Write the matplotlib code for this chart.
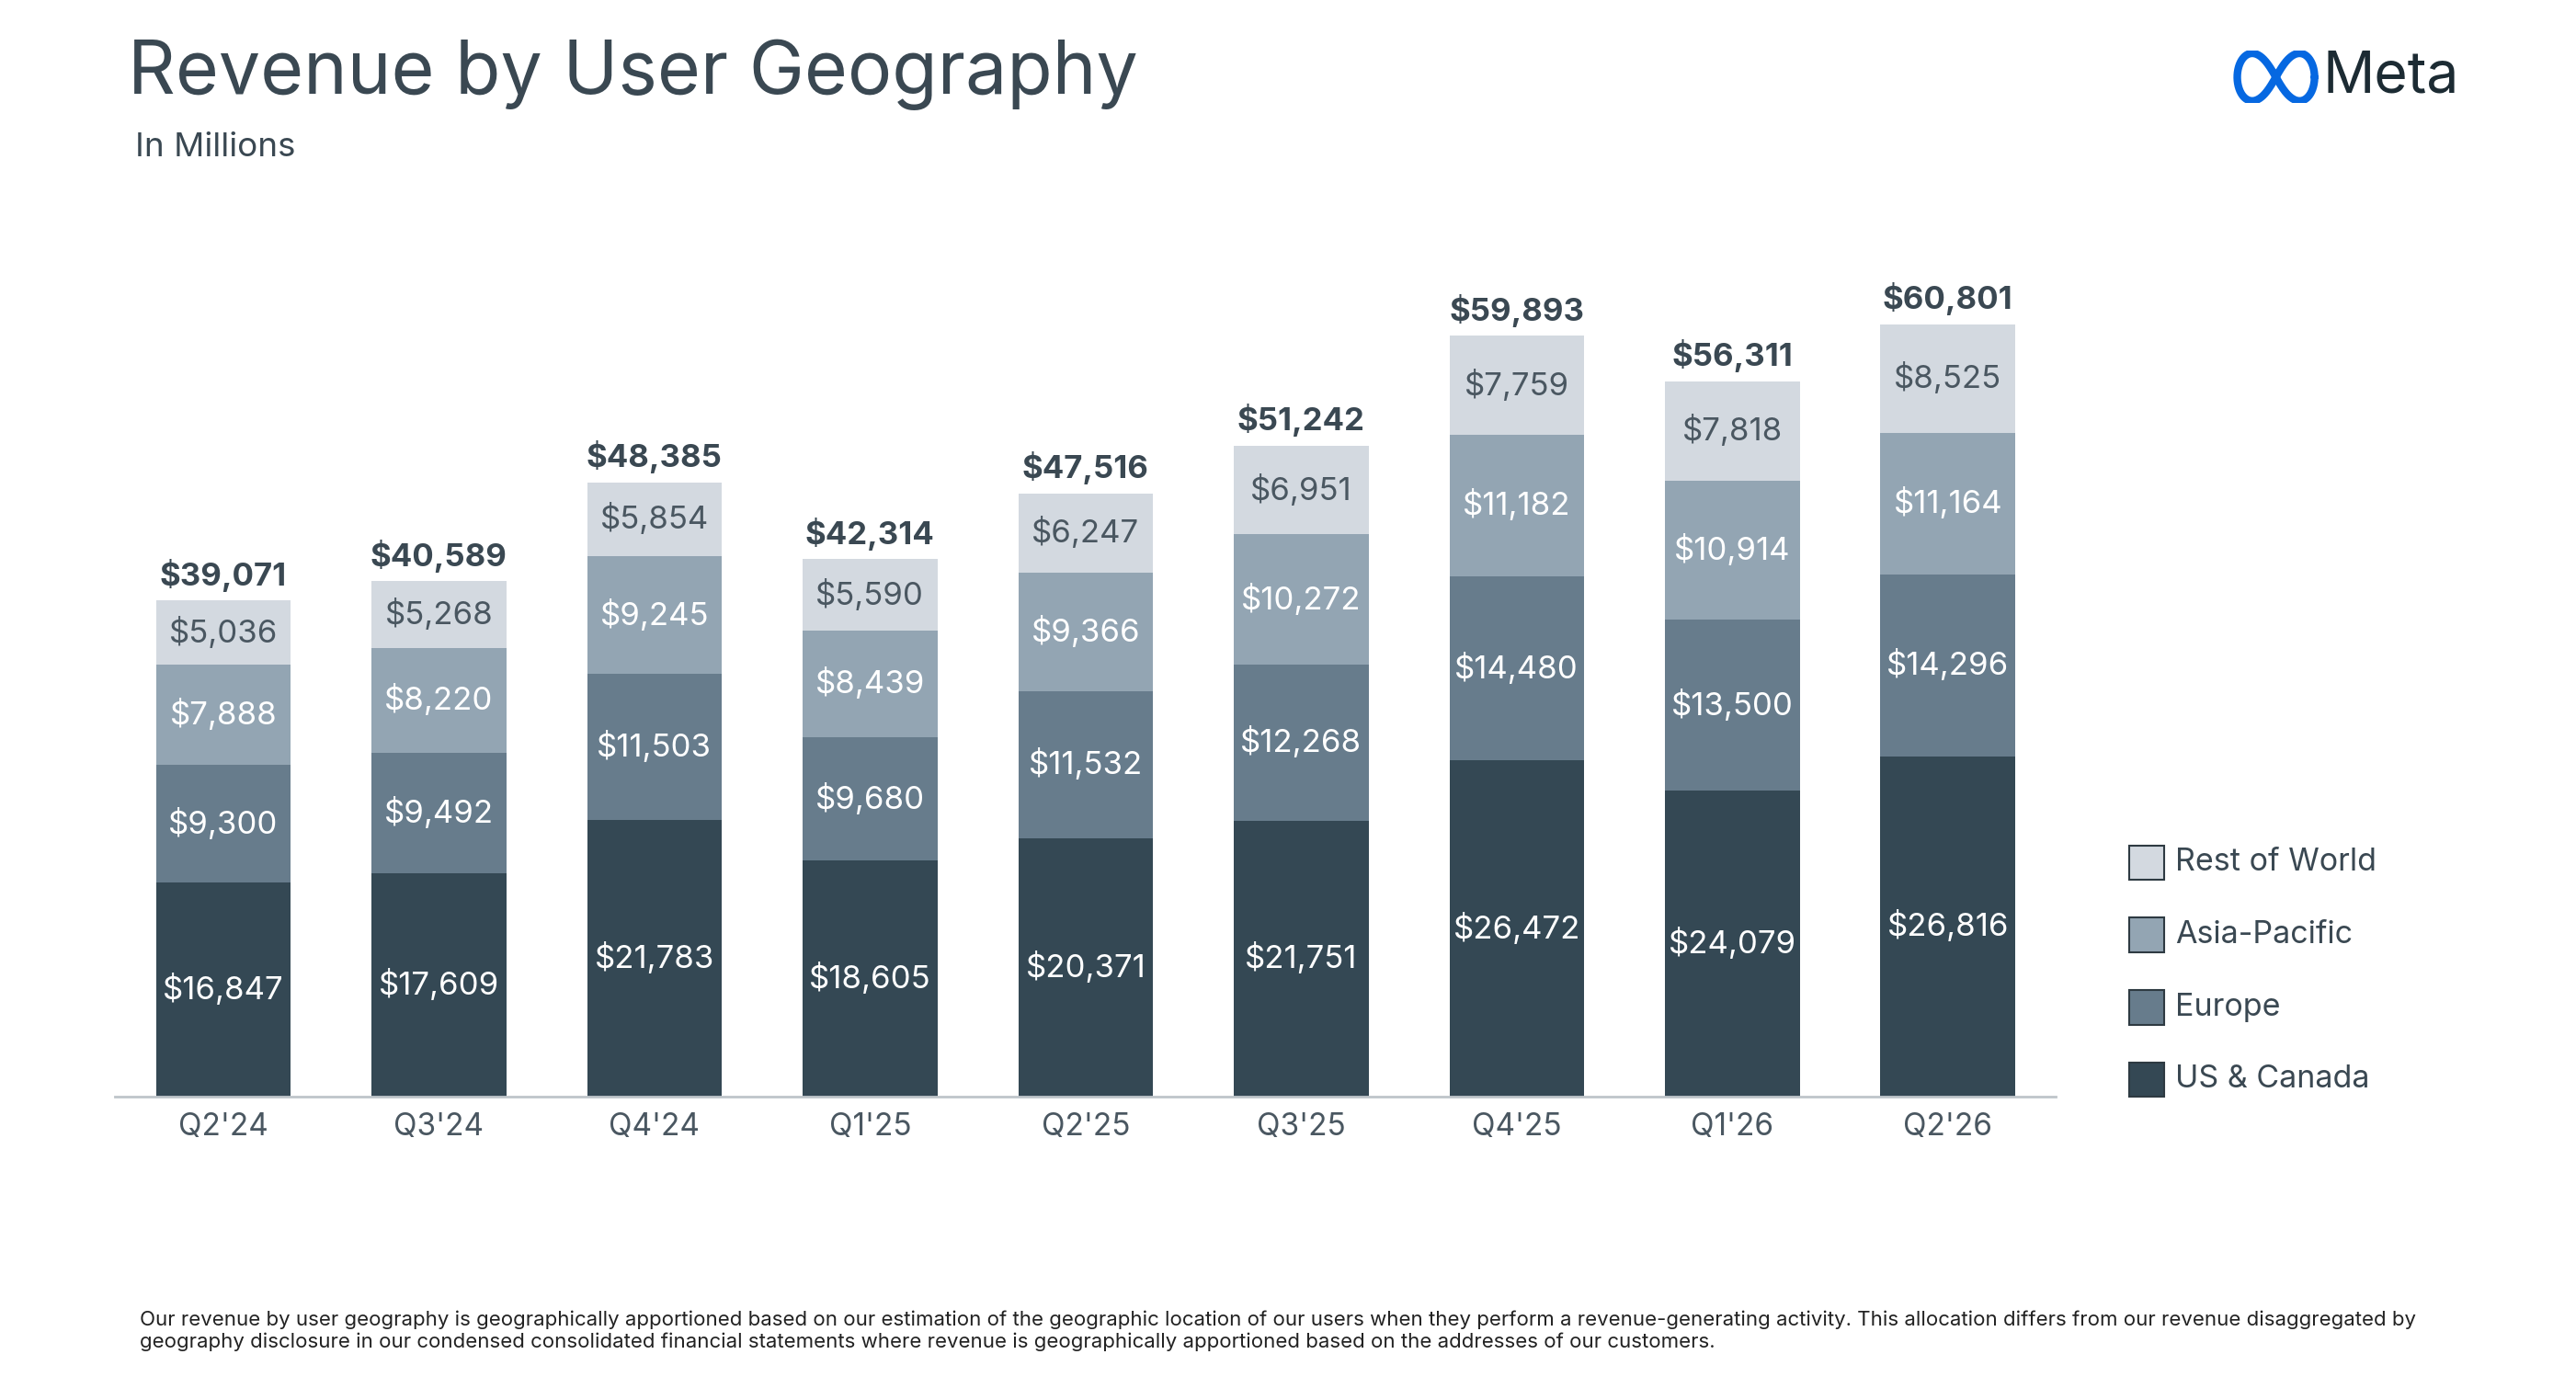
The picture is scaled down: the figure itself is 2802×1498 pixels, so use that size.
import numpy as np
import matplotlib.pyplot as plt
from matplotlib.patches import Rectangle

quarters = ["Q2'24", "Q3'24", "Q4'24", "Q1'25", "Q2'25", "Q3'25", "Q4'25", "Q1'26", "Q2'26"]
us_canada = [16847, 17609, 21783, 18605, 20371, 21751, 26472, 24079, 26816]
europe = [9300, 9492, 11503, 9680, 11532, 12268, 14480, 13500, 14296]
asia_pacific = [7888, 8220, 9245, 8439, 9366, 10272, 11182, 10914, 11164]
rest_of_world = [5036, 5268, 5854, 5590, 6247, 6951, 7759, 7818, 8525]
totals = [39071, 40589, 48385, 42314, 47516, 51242, 59893, 56311, 60801]

series = [("US & Canada", us_canada, "#344854", "white"),
          ("Europe", europe, "#677C8C", "white"),
          ("Asia-Pacific", asia_pacific, "#93A5B3", "white"),
          ("Rest of World", rest_of_world, "#D3D9E0", "#4A5761")]

plt.rcParams['font.family'] = ['Inter', 'DejaVu Sans']
dark = "#3A4852"

fig = plt.figure(figsize=(28.02, 14.98), dpi=100)
ax = fig.add_axes([0.0446, 0.2035, 0.7534, 0.6158])
x = np.arange(len(quarters))
bottom = np.zeros(len(quarters))
for name, vals, col, tcol in series:
    vals = np.array(vals)
    ax.bar(x, vals, 0.625, bottom=bottom, color=col)
    for xi, b, v in zip(x, bottom, vals):
        ax.text(xi, b + v / 2, f"${v:,}", ha='center', va='center', fontsize=25, color=tcol)
    bottom += vals
for xi, t in zip(x, totals):
    ax.text(xi, t + 700, f"${t:,}", ha='center', va='bottom', fontsize=25, fontweight='bold', color=dark)

ax.set_xlim(-0.503, 8.5)
ax.set_ylim(0, 66752)
ax.set_yticks([])
ax.set_xticks(x)
ax.set_xticklabels(quarters, fontsize=24, color="#4A5761")
ax.tick_params(axis='x', length=0, pad=12)
for s in ['top', 'left', 'right']:
    ax.spines[s].set_visible(False)
ax.spines['bottom'].set_color("#BFC5CA")
ax.spines['bottom'].set_linewidth(2)

# legend
for i, (name, vals, col, tcol) in enumerate(reversed(series)):
    yc = 1 - (525 + 44 * i) / 838
    fig.patches.append(Rectangle((0.8265, yc - 0.0125), 0.0135, 0.025, transform=fig.transFigure,
                                 facecolor=col, edgecolor="#2E3A42", linewidth=1.5))
    fig.text(0.8445, yc, name, fontsize=24.5, va='center', color=dark)

fig.text(0.0497, 0.946, "Revenue by User Geography", fontsize=58, color=dark, va='center')
fig.text(0.0523, 0.893, "In Millions", fontsize=26.5, color=dark, va='center')

# Meta logo
lax = fig.add_axes([0.867, 0.925, 0.033, 0.038])
t = np.linspace(0, 2 * np.pi, 300)
lax.plot(np.cos(t) / (1 + np.sin(t) ** 2), np.sin(t) * np.cos(t) / (1 + np.sin(t) ** 2) * 1.6,
         color="#0668E1", linewidth=6, solid_capstyle='round')
lax.axis('off')
fig.text(0.9015, 0.944, "Meta", fontsize=45, color="#1C2B33", va='center')

fig.text(0.0542, 0.0335,
         "Our revenue by user geography is geographically apportioned based on our estimation of the geographic location of our users when they perform a revenue-generating activity. This allocation differs from our revenue disaggregated by\n"
         "geography disclosure in our condensed consolidated financial statements where revenue is geographically apportioned based on the addresses of our customers.",
         fontsize=16, color="#222222", va='center', linespacing=1.2)

fig.savefig("out.png", dpi=100)
